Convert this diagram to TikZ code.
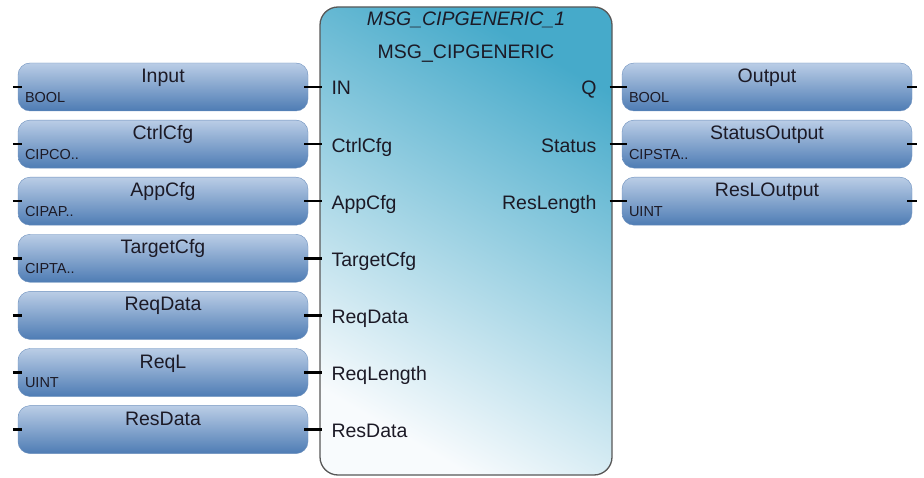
\documentclass[tikz,border=0pt]{standalone}
\usepackage{fontspec}
\setmainfont{Liberation Sans}
\usetikzlibrary{positioning,calc}
\definecolor{varTop}{RGB}{186,205,230}
\definecolor{varBot}{RGB}{78,124,180}
\definecolor{varEdge}{RGB}{110,145,190}
\definecolor{fbTop}{RGB}{70,170,202}
\definecolor{fbBot}{RGB}{248,251,253}
\definecolor{fbEdge}{RGB}{88,88,88}
\definecolor{txt}{RGB}{28,26,38}

\begin{document}
\begin{tikzpicture}[x=1pt,y=1pt,node distance=8.7pt,text=txt]
\tikzstyle{V}=[rounded corners=12pt,minimum width=290pt,minimum height=48pt,inner sep=0pt,top color=varTop,bottom color=varBot,draw=varEdge,thin,font=\fontsize{19.5}{22}\selectfont,text height=13pt,text depth=22pt]
\tikzstyle{T}=[font=\fontsize{14.5}{16}\selectfont,inner sep=0pt,anchor=base west,xshift=7pt,yshift=9pt]
\tikzstyle{FB}=[rounded corners=18pt,minimum width=292pt,minimum height=468pt,top color=fbTop,bottom color=fbBot,shading angle=-30,draw=fbEdge,line width=1.3pt]
\tikzstyle{P}=[font=\fontsize{19.5}{22}\selectfont,inner sep=0pt]
\tikzstyle{S}=[line width=2.5pt,black]
\useasboundingbox (0,0) rectangle (924,477);
% input variables
\node[V,label={[T]south west:BOOL}] (input) at (163,390) {Input};
\node[V,below=of input,label={[T]south west:CIPCO..}] (ctrlcfg) {CtrlCfg};
\node[V,below=of ctrlcfg,label={[T]south west:CIPAP..}] (appcfg) {AppCfg};
\node[V,below=of appcfg,label={[T]south west:CIPTA..}] (targetcfg) {TargetCfg};
\node[V,below=of targetcfg] (reqdata) {ReqData};
\node[V,below=of reqdata,label={[T]south west:UINT}] (reql) {ReqL};
\node[V,below=of reql] (resdata) {ResData};
% output variables
\node[V,label={[T]south west:BOOL}] (output) at (767,390) {Output};
\node[V,below=of output,label={[T]south west:CIPSTA..}] (statusout) {StatusOutput};
\node[V,below=of statusout,label={[T]south west:UINT}] (resloutput) {ResLOutput};
% function block
\node[FB] (msg) at (466,236) {};
\node[P,font=\fontsize{19.5}{22}\selectfont\itshape,anchor=base] (inst) at ([yshift=-19pt]msg.north) {MSG\_CIPGENERIC\_1};
\node[P,anchor=base] (fbtype) at ([yshift=-52pt]msg.north) {MSG\_CIPGENERIC};
\node[P,anchor=base west,xshift=12pt,yshift=-8pt] (pin-in) at (msg.west |- input) {IN};
\node[P,anchor=base west,xshift=12pt,yshift=-8pt] (pin-ctrl) at (msg.west |- ctrlcfg) {CtrlCfg};
\node[P,anchor=base west,xshift=12pt,yshift=-8pt] (pin-app) at (msg.west |- appcfg) {AppCfg};
\node[P,anchor=base west,xshift=12pt,yshift=-8pt] (pin-target) at (msg.west |- targetcfg) {TargetCfg};
\node[P,anchor=base west,xshift=12pt,yshift=-8pt] (pin-reqdata) at (msg.west |- reqdata) {ReqData};
\node[P,anchor=base west,xshift=12pt,yshift=-8pt] (pin-reqlen) at (msg.west |- reql) {ReqLength};
\node[P,anchor=base west,xshift=12pt,yshift=-8pt] (pin-resdata) at (msg.west |- resdata) {ResData};
\node[P,anchor=base east,xshift=-16pt,yshift=-8pt] (pin-q) at (msg.east |- output) {Q};
\node[P,anchor=base east,xshift=-16pt,yshift=-8pt] (pin-status) at (msg.east |- statusout) {Status};
\node[P,anchor=base east,xshift=-16pt,yshift=-8pt] (pin-reslen) at (msg.east |- resloutput) {ResLength};
% wires into the block
\draw[S] ([xshift=-4pt]input.east) -- (input.east -| msg.west) -- ++(3,0); \draw[S] ([xshift=-4pt]ctrlcfg.east) -- (ctrlcfg.east -| msg.west) -- ++(3,0);
\draw[S] ([xshift=-4pt]appcfg.east) -- (appcfg.east -| msg.west) -- ++(3,0); \draw[S] ([xshift=-4pt]targetcfg.east) -- (targetcfg.east -| msg.west) -- ++(3,0);
\draw[S] ([xshift=-4pt]reqdata.east) -- (reqdata.east -| msg.west) -- ++(3,0); \draw[S] ([xshift=-4pt]reql.east) -- (reql.east -| msg.west) -- ++(3,0);
\draw[S] ([xshift=-4pt]resdata.east) -- (resdata.east -| msg.west) -- ++(3,0);
\draw[S] (msg.east |- output) ++(-3,0) -- ([xshift=5pt]output.west); \draw[S] (msg.east |- statusout) ++(-3,0) -- ([xshift=5pt]statusout.west);
\draw[S] (msg.east |- resloutput) ++(-3,0) -- ([xshift=5pt]resloutput.west);
% free ends
\draw[S] ([xshift=-5pt]input.west) -- ++(9,0); \draw[S] ([xshift=-5pt]ctrlcfg.west) -- ++(9,0);
\draw[S] ([xshift=-5pt]appcfg.west) -- ++(9,0); \draw[S] ([xshift=-5pt]targetcfg.west) -- ++(9,0);
\draw[S] ([xshift=-5pt]reqdata.west) -- ++(9,0); \draw[S] ([xshift=-5pt]reql.west) -- ++(9,0);
\draw[S] ([xshift=-5pt]resdata.west) -- ++(9,0);
\draw[S] ([xshift=-5pt]output.east) -- ++(10,0); \draw[S] ([xshift=-5pt]statusout.east) -- ++(10,0);
\draw[S] ([xshift=-5pt]resloutput.east) -- ++(10,0);
\end{tikzpicture}
\end{document}
